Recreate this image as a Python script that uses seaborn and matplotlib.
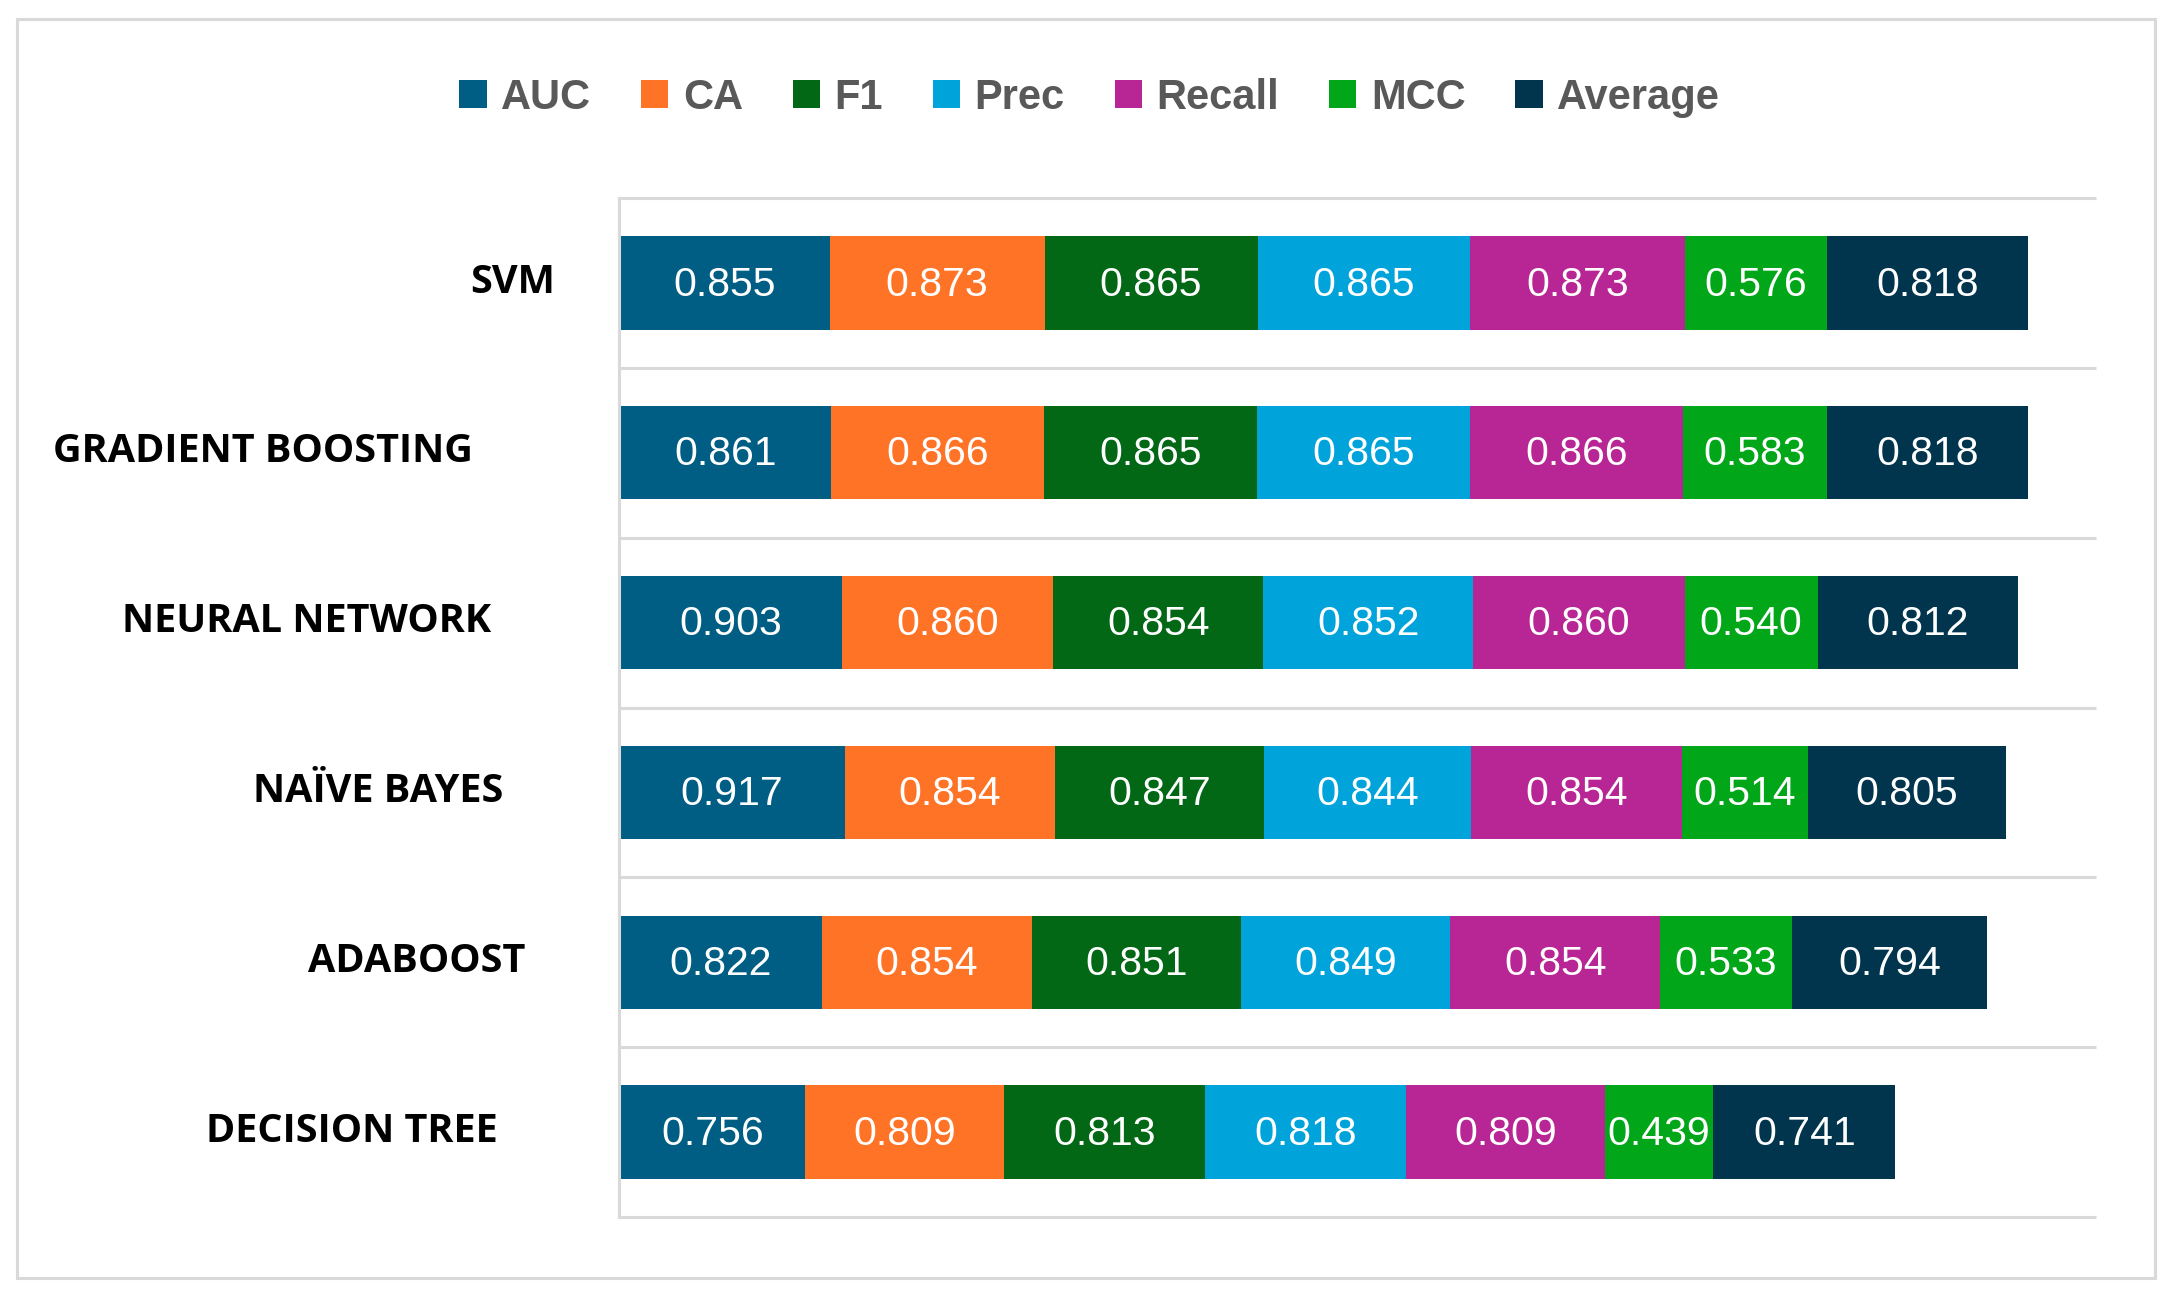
"""
Stacked horizontal bar chart of classifier metrics
"""

import numpy as np
import pandas as pd
import matplotlib.pyplot as plt
from matplotlib.patches import Patch, Rectangle
from matplotlib import transforms
import seaborn as sns

models = ["SVM", "GRADIENT BOOSTING", "NEURAL NETWORK", "NAÏVE BAYES", "ADABOOST", "DECISION TREE"]
metrics = ["AUC", "CA", "F1", "Prec", "Recall", "MCC", "Average"]

auc = [0.855, 0.861, 0.903, 0.917, 0.822, 0.756]
ca = [0.873, 0.866, 0.860, 0.854, 0.854, 0.809]
f1 = [0.865, 0.865, 0.854, 0.847, 0.851, 0.813]
prec = [0.865, 0.865, 0.852, 0.844, 0.849, 0.818]
recall = [0.873, 0.866, 0.860, 0.854, 0.854, 0.809]
mcc = [0.576, 0.583, 0.540, 0.514, 0.533, 0.439]
average = [0.818, 0.818, 0.812, 0.805, 0.794, 0.741]

colors = ["#005E84", "#FF7327", "#026815", "#00A3DA", "#B82594", "#02A719", "#00354D"]

df = pd.DataFrame({"model": models, "AUC": auc, "CA": ca, "F1": f1, "Prec": prec,
                   "Recall": recall, "MCC": mcc, "Average": average})
cum = df[metrics].cumsum(axis=1)

sns.set_style("white")
fig, ax = plt.subplots(figsize=(21.73, 12.97), dpi=100)
fig.subplots_adjust(left=0.2850, right=0.9646, top=0.8473, bottom=0.0617)

# category separators
ax.hlines(np.arange(len(models) + 1) - 0.5, 0, 6, color="#D9D9D9", lw=2.2,
          clip_on=False, zorder=0)

# draw back to front: each shorter cumulative bar covers the longer one
for m, c in reversed(list(zip(metrics, colors))):
    sns.barplot(x=cum[m], y=df["model"], order=models, orient="h", color=c,
                width=0.55, saturation=1, errorbar=None, linewidth=0, ax=ax)

# segment value labels
for i in range(len(models)):
    for m in metrics:
        v = df.loc[i, m]
        ax.text(cum.loc[i, m] - v / 2, i + 0.01, f"{v:.3f}", ha="center", va="center",
                color="white", fontsize=29.5, family="Liberation Sans")

ax.set_xlim(0, 6)
ax.set_ylim(len(models) - 0.5, -0.5)
ax.set_xticks([])
ax.set_yticks([])
ax.set_xlabel("")
ax.set_ylabel("")
for s in ["top", "right", "bottom"]:
    ax.spines[s].set_visible(False)
ax.spines["left"].set_color("#D9D9D9")
ax.spines["left"].set_linewidth(2.2)

# category labels (placed like the original layout)
label_x = [513, 263, 307, 378, 417, 352]
trans = transforms.blended_transform_factory(fig.transFigure, ax.transData)
for i, name in enumerate(models):
    fig.text(label_x[i] / 2173, i - 0.005, name, transform=trans, ha="center", va="center",
             fontsize=28.5, fontweight="bold", family="Open Sans", color="black")

handles = [Patch(facecolor=c, edgecolor="none") for c in colors]
fig.legend(handles, metrics, loc="center", bbox_to_anchor=(0.5015, 0.9245), ncol=7,
           frameon=False, handlelength=0.65, handleheight=0.65, handletextpad=0.35,
           columnspacing=1.2, labelcolor="#595959",
           prop=dict(family="Liberation Sans", weight="bold", size=30))

# outer frame
fig.add_artist(Rectangle((0.0078, 0.0147), 0.9839, 0.9707, transform=fig.transFigure,
                         fill=False, ec="#D9D9D9", lw=2.2))

fig.savefig("out.png", dpi=100)
